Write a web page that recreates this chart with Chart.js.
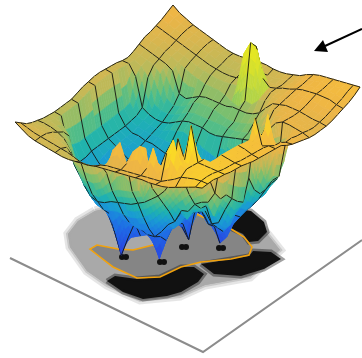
<!DOCTYPE html>
<html>
<head>
<meta charset="utf-8">
<title>Surface</title>
<style>
html, body { margin: 0; padding: 0; background: #fff; }
canvas { display: block; }
</style>
<script src="https://cdn.jsdelivr.net/npm/chart.js@4"></script>
</head>
<body>
<canvas id="chart" width="362" height="358"></canvas>
<script>
// Surface heights, one row per grid line (rows run top corner -> left corner)
const heightRows = [
  [0,-5,-8,-11,-13,-15,-17,-19,-21,-22,-22,-21,-20,-19,-19,-20,-20,-19,-17,-15,-11,-8,-6,-5,-4,-3,-2,-1,0],
  [-3,-6,-9,-11,-13,-15,-17,-19,-21,-22,-23,-23,-22,-21,-21,-22,-22,-20,-18,-16,-12,-9,-7,-6,-5,-4,-3,-3,-4],
  [-6,-8,-10,-12,-14,-16,-18,-20,-22,-24,-25,-25,-24,-23,-24,-16,-22,-21,-19,-16,-13,-10,-8,-7,-6,-5,-5,-6,-7],
  [-8,-10,-12,-14,-16,-18,-20,-22,-24,-25,-26,-26,-25,-22,14,15,-14,-20,-18,-15,-13,-10,-8,-7,-6,-6,-6,-8,-9],
  [-10,-12,-14,-16,-18,-20,-22,-24,-26,-27,-28,-28,-27,-26,9,23,18,-22,-18,-16,-14,-11,-9,-8,-8,-9,-10,-10,-11],
  [-11,-13,-15,-17,-19,-22,-25,-28,-30,-32,-32,-32,-34,-38,-40,-31,-32,-25,-22,-16,-14,-12,-10,-10,-10,-11,-12,-12,-13],
  [-14,-16,-18,-20,-22,-26,-46,-48,-44,-40,-38,-38,-38,-38,-36,-36,-36,-34,-30,-22,-15,-13,-11,-11,-11,-12,-13,-13,-14],
  [-17,-18,-20,-22,-28,-50,-54,-52,-48,-42,-40,-40,-40,-42,-44,-44,-42,-40,-36,-30,-22,-14,-12,-11,-11,-12,-13,-14,-14],
  [-19,-19,-22,-30,-54,-58,-58,-56,-52,-48,-46,-46,-46,-46,-46,-46,-46,-44,-42,-36,-30,-22,-13,-11,-10,-11,-12,-13,-14],
  [-18,-18,-28,-56,-60,-62,-62,-60,-56,-52,-50,-50,-50,-52,-52,-50,-48,-46,-44,-42,-36,-30,-22,-13,-9,-9,-10,-11,-13],
  [-16,-17,-50,-60,-62,-64,-64,-64,-60,-58,-56,-58,-60,-64,-66,-68,-72,-92,-110,-88,-85,-82,-78,-72,-62,-42,-12,-10,-11],
  [-15,-16,-52,-61,-64,-65,-66,-66,-66,-66,-68,-70,-76,-84,-92,-98,-100,-100,-104,-100,-96,-90,-84,-76,-62,-42,-14,-8,-9],
  [-14,-15,-52,-62,-66,-66,-68,-68,-70,-72,-76,-82,-90,-98,-104,-108,-108,-106,-124,-104,-98,-94,-86,-76,-64,-52,-45,-8,-7],
  [-13,-14,-52,-62,-66,-68,-70,-72,-76,-82,-90,-98,-104,-108,-110,-110,-112,-116,-131,-122,-106,-96,-86,-76,-64,-50,-40,-4,-4],
  [-13,-14,-52,-62,-66,-68,-72,-76,-82,-90,-98,-104,-108,-110,-116,-103,-100,-110,-110,-108,-100,-90,-80,-70,-56,-30,25,-3,0],
  [-14,-15,-52,-62,-66,-70,-74,-80,-88,-96,-102,-106,-108,-112,-118,-128,-95,-95,-104,-100,-92,-82,-72,-58,-40,23,-2,1,1],
  [-15,-16,-52,-62,-66,-72,-78,-84,-92,-98,-102,-104,-106,-108,-110,-108,-94,-88,-88,-92,-96,-98,-89,-72,-60,5,5,3,2],
  [-17,-18,-52,-62,-68,-74,-80,-88,-94,-100,-102,-104,-104,-106,-108,-102,-96,-90,-80,-80,-88,-90,-88,-75,-55,6,6,4,3],
  [-19,-20,-52,-62,-70,-76,-84,-92,-98,-102,-104,-104,-106,-112,-118,-104,-96,-88,-80,-75,-72,-82,-78,-62,-48,8,7,5,4],
  [-19,-20,-52,-64,-72,-78,-86,-94,-100,-104,-110,-112,-110,-118,-133,-112,-96,-90,-78,-72,-68,-60,-62,-52,-40,9,8,6,5],
  [-19,-20,-50,-64,-74,-80,-88,-96,-102,-108,-117,-116,-112,-108,-108,-104,-94,-90,-72,-75,-62,-58,-50,-60,-40,10,9,7,7],
  [-19,-20,-46,-64,-74,-80,-86,-92,-97,-113,-133,-113,-95,-99,-101,-100,-92,-82,-76,-62,-60,-50,-45,-42,-30,11,10,9,9],
  [-18,-18,-22,-30,-54,-66,-78,-84,-86,-90,-106,-90,-90,-92,-92,-88,-80,-72,-62,-52,-44,-36,-28,-20,-12,11,11,10,10],
  [-17,-17,-19,-22,-30,-46,-62,-74,-80,-82,-80,-78,-78,-78,-76,-72,-66,-58,-50,-40,-28,-18,-8,8,12,12,12,11,11],
  [-15,-15,-16,-18,-22,-32,-46,-60,-68,-70,-68,-64,-62,-60,-58,-54,-50,-44,-38,-30,-18,28,10,47,13,13,13,13,13],
  [-13,-13,-13,-14,-14,-18,-28,-42,-52,-58,-58,-52,-46,-42,-40,-38,-34,11,-26,-22,8,-6,6,14,14,14,15,15,14],
  [-10,-10,-11,-11,-12,-13,-16,-26,-34,-40,-40,-36,-24,2,12,-6,9,17,-2,21,2,22,38,15,15,15,16,16,16],
  [-5,-7,-9,-10,-11,-12,-13,-14,-16,-18,-18,-16,-12,-10,-9,-8,-7,-6,-5,-4,-3,-2,2,6,11,13,15,16,16],
  [0,-4,-8,-10,-11,-12,-13,-14,-14,-13,-12,-11,-9,-8,-7,-6,-5,-4,-3,-2,-2,-1,0,2,5,8,11,14,16]
];

// Grid cells of the tall column on the far wall, these read yellow-green in the picture
const brightCells = ['14,2', '15,2', '13,3', '14,3', '15,3', '16,3', '13,4', '14,4', '15,4', '16,4'];

// Colour ramp, height -> colour
const rampHeights = [-135, -105, -90, -75, -62, -50, -38, -25, -15, -5, 5, 20, 45];
const rampColors = [
  [42,64,224], [32,104,230], [28,128,224], [26,157,210], [31,179,174], [72,188,142], [124,191,110],
  [186,186,90], [214,182,80], [237,181,70], [244,188,62], [250,211,42], [247,240,24]
];
const brightHeights = [-50, -25, 10];
const brightColors = [[96,190,120], [180,212,70], [228,230,36]];

// Ground marks, in picture units
const plateEdge = [[10,258],[203,352],[362,240]];
const shadowGrey = [[95,211],[78,221],[68,234],[70,247],[87,271],[107,285],[140,300],[180,296],[205,285],[250,277],[280,250],[268,235],[255,220],[235,205],[180,200],[120,205]];
const insideGrey = [[97,245],[118,249],[133,250],[157,244],[175,225],[196,214],[214,222],[228,227],[244,237],[252,247],[249,255],[231,259],[201,262],[181,267],[160,277],[137,278],[113,267],[100,257],[90,249]];
const contourLine = [[157,244],[133,250],[118,249],[97,245],[90,249],[100,257],[113,267],[137,278],[160,277],[181,267],[201,262],[231,259],[249,255],[252,247],[244,237],[228,227],[214,222],[196,214]];
const blobLower = [[107,281],[123,292],[143,299],[167,296],[181,292],[198,282],[204,274],[194,267],[181,267],[160,277],[137,279],[115,276]];
const blobRight = [[201,264],[214,274],[241,276],[264,269],[281,259],[271,252],[253,251],[249,256],[231,259]];
const blobUpper = [[229,216],[239,209],[251,211],[264,222],[267,232],[258,241],[249,242],[243,234],[228,227]];
const whiteGap = [[197,206],[206,207],[212,214],[204,216],[198,212]];
const footDots = [[122,257],[126,257],[160,262],[164,262],[182,247],[186,247],[219,248],[223,248]];
const arrowShaft = [[362,29],[325,46]];
const arrowHead = [[314,51],[323,40],[328,52]];

// Parallel projection of the surface grid into picture units
function project(c, r, z) {
    return { x: 173 + c * 6.68 - r * 5.64, y: 5 + c * 2.93 + r * 4.18 - z };
}

function rampColor(h, heights, colors) {
    if (h <= heights[0]) return `rgb(${colors[0].join(',')})`;
    for (let i = 1; i < heights.length; i++) {
        if (h <= heights[i]) {
            const t = (h - heights[i - 1]) / (heights[i] - heights[i - 1]);
            const a = colors[i - 1], b = colors[i];
            return `rgb(${a.map((v, k) => Math.round(v + (b[k] - v) * t)).join(',')})`;
        }
    }
    return `rgb(${colors[colors.length - 1].join(',')})`;
}

function colorFor(z, c, r) {
    if (brightCells.includes(`${c},${r}`)) return rampColor(z, brightHeights, brightColors);
    return rampColor(z + (c - r) * 0.25, rampHeights, rampColors);
}

function toPoints(list) {
    return list.map(p => ({ x: p[0], y: p[1] }));
}

function shape(list, color, edgeColor, edgeWidth) {
    const pts = toPoints(list);
    pts.push(pts[0]);
    return { data: pts, showLine: true, fill: 'shape', backgroundColor: color, borderColor: edgeColor || color, borderWidth: edgeWidth || 0, pointRadius: 0 };
}

function path(list, color, width) {
    return { data: toPoints(list), showLine: true, fill: false, borderColor: color, borderWidth: width, pointRadius: 0 };
}

// Fill quads back to front, mesh lines go in right after the quad they belong to
function surfaceDatasets() {
    const sets = [];
    const rows = heightRows.length - 1;
    const cols = heightRows[0].length - 1;
    const meshStep = 3;
    for (let r = 0; r < rows; r++) {
        for (let c = 0; c < cols; c++) {
            const z00 = heightRows[r][c], z10 = heightRows[r][c + 1], z01 = heightRows[r + 1][c], z11 = heightRows[r + 1][c + 1];
            const span = Math.max(z00, z10, z01, z11) - Math.min(z00, z10, z01, z11);
            const n = Math.min(4, Math.max(1, Math.ceil(span / 18)));
            const at = (u, v) => z00 * (1 - u) * (1 - v) + z10 * u * (1 - v) + z01 * (1 - u) * v + z11 * u * v;
            for (let j = 0; j < n; j++) {
                for (let i = 0; i < n; i++) {
                    const u0 = i / n, u1 = (i + 1) / n, v0 = j / n, v1 = (j + 1) / n;
                    const pts = [
                        project(c + u0, r + v0, at(u0, v0)), project(c + u1, r + v0, at(u1, v0)),
                        project(c + u1, r + v1, at(u1, v1)), project(c + u0, r + v1, at(u0, v1))
                    ];
                    pts.push(pts[0]);
                    const color = colorFor(at((u0 + u1) / 2, (v0 + v1) / 2), c, r);
                    sets.push({ data: pts, showLine: true, fill: 'shape', backgroundColor: color, borderColor: color, borderWidth: 0.7, pointRadius: 0 });
                }
            }
            const edge = (a, b) => sets.push(path([[a.x, a.y], [b.x, b.y]], 'rgba(20,20,15,0.9)', 1));
            if (c % meshStep === 0) edge(project(c, r, z00), project(c, r + 1, z01));
            if (r % meshStep === 0) edge(project(c, r, z00), project(c + 1, r, z10));
            if (c === cols - 1) edge(project(c + 1, r, z10), project(c + 1, r + 1, z11));
            if (r === rows - 1) edge(project(c, r + 1, z01), project(c + 1, r + 1, z11));
        }
    }
    return sets;
}

function groundDatasets() {
    return [
        path(plateEdge, '#8c8c8c', 2),
        shape(shadowGrey, '#a9a9a9', 'rgba(169,169,169,0.3)', 9),
        shape(shadowGrey, '#a9a9a9', 'rgba(169,169,169,0.5)', 4),
        shape(insideGrey, '#858585'),
        shape(blobLower, '#111', 'rgba(17,17,17,0.4)', 5),
        shape(blobRight, '#111', 'rgba(17,17,17,0.4)', 5),
        shape(blobUpper, '#111', 'rgba(17,17,17,0.4)', 5),
        path(contourLine, '#f2a20c', 1.6),
        shape(whiteGap, '#fff'),
        { data: toPoints(footDots), pointRadius: 3, backgroundColor: '#111', borderWidth: 0, showLine: false }
    ];
}

function arrowDatasets() {
    return [path(arrowShaft, '#000', 2), shape(arrowHead, '#000')];
}

// Chart.js paints the first dataset last, so the list is flipped
const datasets = [...groundDatasets(), ...surfaceDatasets(), ...arrowDatasets()].reverse();

new Chart(document.getElementById('chart'), {
    type: 'scatter',
    data: { datasets },
    options: {
        responsive: false,
        animation: false,
        events: [],
        layout: { padding: 0, autoPadding: false },
        plugins: { legend: { display: false }, tooltip: { enabled: false } },
        scales: {
            x: { type: 'linear', min: 0, max: 362, display: false },
            y: { type: 'linear', min: 0, max: 358, reverse: true, display: false }
        }
    }
});
</script>
</body>
</html>
